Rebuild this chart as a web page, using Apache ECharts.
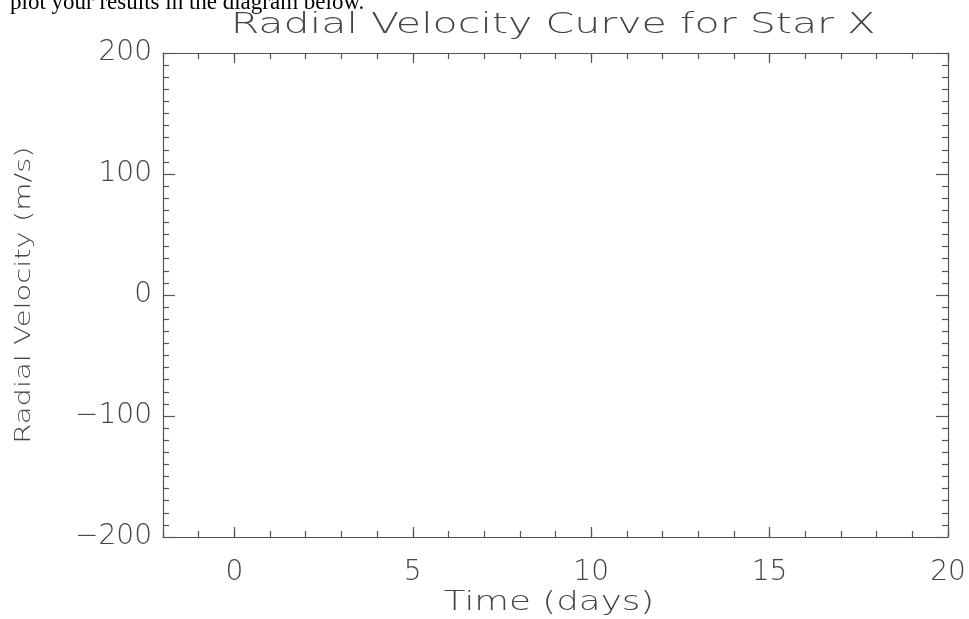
<!DOCTYPE html>
<html><head><meta charset="utf-8">
<script src="https://cdn.jsdelivr.net/npm/echarts@6/dist/echarts.min.js"></script>
<style>html,body{margin:0;padding:0;background:#fff}#c{width:969px;height:619px}</style>
</head><body><div id="c"></div>
<script>
const titleText = 'Radial Velocity Curve for Star X';
const headerText = 'plot your results in the diagram below.';
const xName = 'Time (days)';
const yName = 'Radial Velocity (m/s)';
const xRange = [-2, 20];
const yRange = [-200, 200];
const xMajorTicks = [0, 5, 10, 15, 20];
const timeData = [];      // no observations plotted
const velocityData = [];  // no observations plotted

const FONT = 'DejaVu Sans';
const TXT = '#444';
const LINE = '#555';
const fmt = v => String(v).replace('-', '\u2212');

const chart = echarts.init(document.getElementById('c'));
const grid = {left: 163, top: 53, right: 21, bottom: 82};

function xAxisMinor(pos, labels) {
  return {
    type: 'value', position: pos, min: xRange[0], max: xRange[1], interval: 1,
    axisLine: {show: true, onZero: false, lineStyle: {color: LINE, width: 1.2}},
    axisTick: {show: true, inside: true, length: 6, lineStyle: {color: LINE, width: 1.2}},
    axisLabel: labels ? {show: true, margin: 22, fontFamily: FONT, fontSize: 28, fontWeight: 200, color: TXT,
      formatter: v => (xMajorTicks.indexOf(v) >= 0 ? fmt(v) : '')} : {show: false},
    splitLine: {show: false}
  };
}
function xAxisMajor(pos) {
  return {
    type: 'value', position: pos, min: xRange[0], max: xRange[1],
    axisLine: {show: false, onZero: false},
    axisTick: {show: true, inside: true, length: 10, customValues: xMajorTicks, lineStyle: {color: LINE, width: 1.2}},
    axisLabel: {show: false}, splitLine: {show: false}
  };
}
function yAxis(pos, labels) {
  return {
    type: 'value', position: pos, min: yRange[0], max: yRange[1], interval: 100,
    axisLine: {show: true, onZero: false, lineStyle: {color: LINE, width: 1.2}},
    axisTick: {show: true, inside: true, length: 12, lineStyle: {color: LINE, width: 1.2}},
    minorTick: {show: true, splitNumber: 10, length: 6, lineStyle: {color: LINE, width: 1.2}},
    axisLabel: labels ? {show: true, margin: 11, fontFamily: FONT, fontSize: 28, fontWeight: 200, color: TXT, formatter: fmt} : {show: false},
    splitLine: {show: false}, minorSplitLine: {show: false}
  };
}
const textStyle = (t, size) => ({text: t, fontFamily: FONT, fontSize: size, fontWeight: 200, fill: TXT,
  align: 'center', verticalAlign: 'middle'});

chart.setOption({
  animation: false,
  backgroundColor: '#fff',
  graphic: [
    {type: 'text', left: 10, top: -9,
     style: {text: headerText, fontFamily: 'Liberation Serif', fontSize: 23, fill: '#000'}},
    {type: 'text', x: 553, y: 26, scaleX: 1.47, style: textStyle(titleText, 28)},
    {type: 'text', x: 549, y: 603, scaleX: 1.32, style: textStyle(xName, 27)},
    {type: 'text', x: 25, y: 295, rotation: Math.PI / 2, scaleX: 1.38, style: textStyle(yName, 21)}
  ],
  grid: grid,
  xAxis: [xAxisMinor('bottom', true), xAxisMajor('bottom'), xAxisMinor('top', false), xAxisMajor('top')],
  yAxis: [yAxis('left', true), yAxis('right', false)],
  series: [{type: 'scatter', xAxisIndex: 0, yAxisIndex: 0,
    data: timeData.map((t, i) => [t, velocityData[i]])}]
});
</script></body></html>
